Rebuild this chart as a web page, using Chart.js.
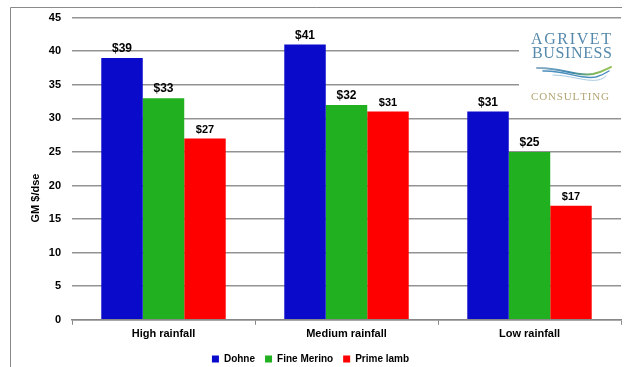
<!DOCTYPE html>
<html>
<head>
<meta charset="utf-8">
<script src="https://cdn.jsdelivr.net/npm/chart.js@4/dist/chart.umd.min.js"></script>
<style>
html,body{margin:0;padding:0;background:#fff;}
#wrap{width:629px;height:367px;position:relative;}
</style>
</head>
<body>
<div id="wrap"><canvas id="c" width="629" height="367"></canvas></div>
<script>
const categories = ['High rainfall', 'Medium rainfall', 'Low rainfall'];
const seriesNames = ['Dohne', 'Fine Merino', 'Prime lamb'];
const dohne = [39, 41, 31];
const fineMerino = [33, 32, 25];
const primeLamb = [27, 31, 17];
const yTicks = [0, 5, 10, 15, 20, 25, 30, 35, 40, 45];
const yTitle = 'GM $/dse';
const logoLines = ['AGRIVET', 'BUSINESS', 'CONSULTING'];

const colors = ['#0a0acb', '#20b020', '#ff0000'];
const FONT = '"Liberation Sans", Arial, sans-serif';
const SERIF = '"Liberation Serif", "DejaVu Serif", serif';

function spacedText(ctx, text, left, right, y) {
  const chars = text.split('');
  const widths = chars.map(c => ctx.measureText(c).width);
  const total = widths.reduce((a, b) => a + b, 0);
  const gap = (right - left - total) / (chars.length - 1);
  let x = left;
  ctx.textAlign = 'left';
  chars.forEach((c, i) => { ctx.fillText(c, x, y); x += widths[i] + gap; });
}

const framePlugin = {
  id: 'frame',
  afterDraw(chart) {
    const ctx = chart.ctx;
    ctx.save();
    ctx.strokeStyle = '#8a8a8a';
    ctx.lineWidth = 1;
    ctx.beginPath();
    ctx.moveTo(10.5, 367);
    ctx.lineTo(10.5, 7.5);
    ctx.lineTo(622, 7.5);
    ctx.stroke();
    ctx.fillStyle = '#000';
    ctx.font = 'bold 11px ' + FONT;
    ctx.translate(36, 198);
    ctx.rotate(-Math.PI / 2);
    ctx.textAlign = 'center';
    ctx.textBaseline = 'middle';
    ctx.fillText(yTitle, 0, 0);
    ctx.restore();

    // logo
    ctx.save();
    ctx.fillStyle = '#fff';
    ctx.fillRect(519, 19, 102, 89);
    ctx.textBaseline = 'alphabetic';
    ctx.fillStyle = '#5589ac';
    ctx.font = '16px ' + SERIF;
    spacedText(ctx, logoLines[0], 531, 611, 44);
    spacedText(ctx, logoLines[1], 532, 612, 58);
    ctx.lineCap = 'round';
    const g = ctx.createLinearGradient(537, 0, 613, 0);
    g.addColorStop(0, '#8fb0c6');
    g.addColorStop(0.45, '#3d86b0');
    g.addColorStop(0.75, '#7cb65a');
    g.addColorStop(1, '#9cc65a');
    ctx.strokeStyle = g;
    ctx.lineWidth = 2;
    ctx.beginPath();
    ctx.moveTo(537, 68);
    ctx.bezierCurveTo(560, 67, 575, 77, 593, 74);
    ctx.bezierCurveTo(602, 72, 607, 69, 611, 67);
    ctx.stroke();
    ctx.strokeStyle = '#4a8fbd';
    ctx.lineWidth = 1.5;
    ctx.beginPath();
    ctx.moveTo(543, 71);
    ctx.bezierCurveTo(565, 70, 580, 80, 596, 77);
    ctx.bezierCurveTo(602, 75, 606, 73, 609, 71);
    ctx.stroke();
    ctx.strokeStyle = '#a9cbe0';
    ctx.lineWidth = 1;
    ctx.beginPath();
    ctx.moveTo(553, 75);
    ctx.bezierCurveTo(570, 75, 585, 82, 598, 80);
    ctx.bezierCurveTo(602, 79, 604, 78, 606, 76);
    ctx.stroke();
    ctx.fillStyle = '#b3a472';
    ctx.font = '11px ' + SERIF;
    spacedText(ctx, logoLines[2], 531, 609, 100);
    ctx.restore();
  }
};

const labelPlugin = {
  id: 'valueLabels',
  afterDatasetsDraw(chart) {
    const ctx = chart.ctx;
    ctx.save();
    ctx.fillStyle = '#000';
    ctx.textAlign = 'center';
    ctx.textBaseline = 'bottom';
    chart.data.datasets.forEach((ds, i) => {
      const meta = chart.getDatasetMeta(i);
      ctx.font = 'bold ' + (i === 2 ? 11 : 12) + 'px ' + FONT;
      meta.data.forEach((bar, j) => {
        ctx.fillText('$' + ds.data[j], bar.x, bar.y - 3);
      });
    });
    ctx.restore();
  }
};

new Chart(document.getElementById('c'), {
  type: 'bar',
  data: {
    labels: categories,
    datasets: [
      { label: seriesNames[0], data: dohne, backgroundColor: colors[0] },
      { label: seriesNames[1], data: fineMerino, backgroundColor: colors[1] },
      { label: seriesNames[2], data: primeLamb, backgroundColor: colors[2] }
    ]
  },
  options: {
    responsive: false,
    animation: false,
    devicePixelRatio: 1,
    layout: { padding: { left: 0, right: 8, top: 9, bottom: -7 } },
    datasets: { bar: { categoryPercentage: 0.68, barPercentage: 1.0 } },
    plugins: {
      legend: {
        position: 'bottom',
        labels: {
          boxWidth: 7, boxHeight: 7, padding: 10, color: '#000',
          font: { family: FONT, size: 10, weight: 'bold' }
        }
      },
      tooltip: { enabled: false }
    },
    scales: {
      y: {
        min: 0, max: 45,
        afterBuildTicks(scale) { scale.ticks = yTicks.map(v => ({ value: v })); },
        afterFit(scale) { scale.width = 72; },
        ticks: { color: '#000', padding: 11, font: { family: FONT, size: 11, weight: 'bold' } },
        grid: { color: '#939393', lineWidth: 1.5, drawTicks: false },
        border: { display: false }
      },
      x: {
        ticks: { color: '#000', padding: 3, font: { family: FONT, size: 11, weight: 'bold' } },
        grid: { drawOnChartArea: false, offset: true, tickLength: 5, color: '#888' },
        border: { color: '#888', width: 1.5 }
      }
    }
  },
  plugins: [labelPlugin, framePlugin]
});
</script>
</body>
</html>
